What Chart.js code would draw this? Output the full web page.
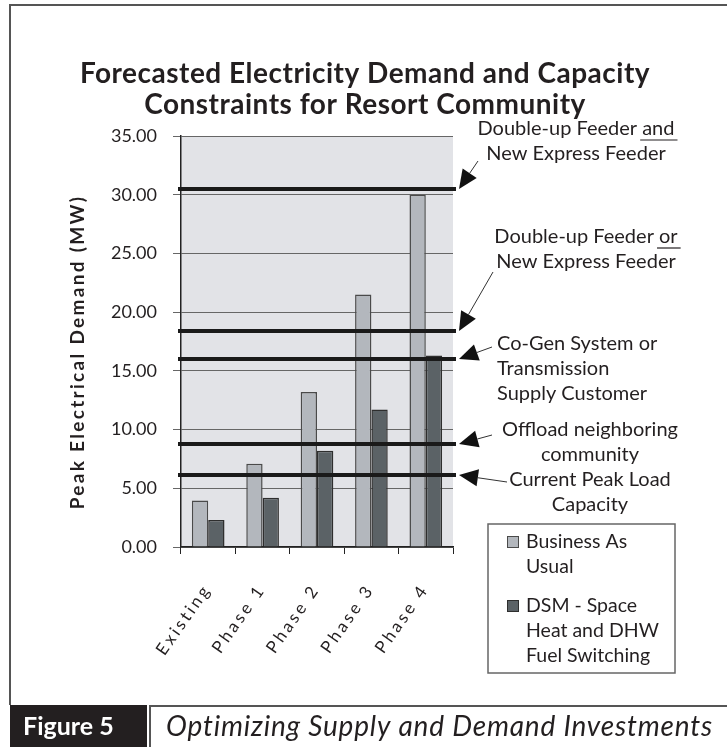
<!DOCTYPE html>
<html>
<head>
<meta charset="utf-8">
<script src="https://cdn.jsdelivr.net/npm/chart.js@4.4.1/dist/chart.umd.min.js"></script>
<style>
  html, body { margin: 0; padding: 0; background: #ffffff; }
  canvas { display: block; }
</style>
</head>
<body>
<canvas id="c" width="727" height="747"></canvas>
<script>
// Forecast categories and demand series (MW)
const categories = ['Existing', 'Phase 1', 'Phase 2', 'Phase 3', 'Phase 4'];
const businessAsUsual = [3.95, 7.1, 13.2, 21.5, 30.0];
const dsmFuelSwitching = [2.3, 4.2, 8.2, 11.7, 16.3];
const seriesNames = [
  ['Business As', 'Usual'],
  ['DSM - Space', 'Heat and DHW', 'Fuel Switching']
];

// Capacity constraint levels (MW) and the measure that unlocks each one
const capacityLevels = [30.5, 18.4, 16.0, 8.8, 6.1];
const capacityNotes = [
  ['Double-up Feeder |and', 'New Express Feeder'],
  ['Double-up Feeder |or', 'New Express Feeder'],
  ['Co-Gen System or', 'Transmission', 'Supply Customer'],
  ['Offload neighboring', 'community'],
  ['Current Peak Load', 'Capacity']
];

const titleLines = ['Forecasted Electricity Demand and Capacity', 'Constraints for Resort Community'];
const yAxisTitle = 'Peak Electrical Demand (MW)';
const figureTag = 'Figure 5';
const figureCaption = 'Optimizing Supply and Demand Investments';

const FONT = 'Lato, "Open Sans", sans-serif';
const INK = '#231f20';

// note layout: text anchor, alignment, arrow tail offset from the arrow tip
const noteLayout = [
  { x: 576, y: 129, align: 'center', tail: [19, -28] },
  { x: 586, y: 237, align: 'center', tail: [34, -59] },
  { x: 497, y: 344, align: 'left',   tail: [33, -12] },
  { x: 590, y: 430, align: 'center', tail: [33, -9] },
  { x: 590, y: 480, align: 'center', tail: [48, 7] }
];

function drawArrow(ctx, tipX, tipY, tailX, tailY) {
  const ang = Math.atan2(tailY - tipY, tailX - tipX);
  const len = 19, half = 8.5;
  const bx = tipX + Math.cos(ang) * len, by = tipY + Math.sin(ang) * len;
  ctx.strokeStyle = '#333';
  ctx.lineWidth = 1;
  ctx.beginPath();
  ctx.moveTo(tailX, tailY);
  ctx.lineTo(bx, by);
  ctx.stroke();
  ctx.fillStyle = '#111';
  ctx.beginPath();
  ctx.moveTo(tipX, tipY);
  ctx.lineTo(bx - Math.sin(ang) * half, by + Math.cos(ang) * half);
  ctx.lineTo(bx + Math.sin(ang) * half, by - Math.cos(ang) * half);
  ctx.closePath();
  ctx.fill();
}

const decorations = {
  id: 'decorations',
  beforeDraw(chart) {
    const { ctx, chartArea: a } = chart;
    ctx.save();
    ctx.fillStyle = '#ffffff';
    ctx.fillRect(0, 0, chart.width, chart.height);
    ctx.fillStyle = '#e2e3e7';
    ctx.fillRect(a.left, a.top, a.right - a.left, a.bottom - a.top);
    ctx.restore();
  },
  afterDatasetsDraw(chart) {
    const { ctx, chartArea: a, scales: { y } } = chart;
    ctx.save();
    ctx.strokeStyle = '#1a1a1a';
    ctx.lineWidth = 4;
    capacityLevels.forEach(v => {
      const py = Math.round(y.getPixelForValue(v));
      ctx.beginPath();
      ctx.moveTo(a.left - 3, py);
      ctx.lineTo(a.right + 3, py);
      ctx.stroke();
    });
    ctx.restore();
  },
  afterDraw(chart) {
    const { ctx, chartArea: a, scales: { x, y } } = chart;
    ctx.save();

    // outer frame
    ctx.strokeStyle = '#555';
    ctx.lineWidth = 2;
    ctx.beginPath();
    ctx.moveTo(10, 705);
    ctx.lineTo(10, 5);
    ctx.lineTo(727, 5);
    ctx.stroke();

    // title
    ctx.fillStyle = INK;
    ctx.font = 'bold 28px ' + FONT;
    ctx.letterSpacing = '0.5px';
    ctx.textAlign = 'center';
    ctx.textBaseline = 'middle';
    titleLines.forEach((t, i) => ctx.fillText(t, 365, 74 + i * 31));
    ctx.letterSpacing = '0px';

    // y axis title
    ctx.save();
    ctx.translate(78, 352);
    ctx.rotate(-Math.PI / 2);
    ctx.font = 'bold 19px ' + FONT;
    ctx.letterSpacing = '2.3px';
    ctx.textAlign = 'center';
    ctx.fillText(yAxisTitle, 0, 0);
    ctx.restore();

    // category labels, rotated and spaced
    ctx.font = '17px ' + FONT;
    categories.forEach((c, i) => {
      const px = x.getPixelForValue(i);
      ctx.save();
      ctx.translate(px - 1, a.bottom + 39);
      ctx.rotate(-55 * Math.PI / 180);
      ctx.letterSpacing = '3px';
      ctx.textAlign = 'right';
      ctx.textBaseline = 'middle';
      ctx.fillText(c, 0, 0);
      ctx.restore();
    });

    // capacity notes with arrows
    capacityLevels.forEach((v, i) => {
      const L = noteLayout[i];
      const tipX = a.right + 6, tipY = Math.round(y.getPixelForValue(v));
      drawArrow(ctx, tipX, tipY, tipX + L.tail[0], tipY + L.tail[1]);
      ctx.fillStyle = INK;
      ctx.font = '20px ' + FONT;
      ctx.textBaseline = 'middle';
      capacityNotes[i].forEach((line, j) => {
        const parts = line.split('|');
        const full = parts.join('');
        const w = ctx.measureText(full).width;
        const left = L.align === 'center' ? L.x - w / 2 : L.x;
        const ly = L.y + j * 25;
        ctx.textAlign = 'left';
        ctx.fillText(full, left, ly);
        if (parts.length > 1) {
          const u0 = left + ctx.measureText(parts[0]).width - 2;
          const u1 = left + w + 3;
          ctx.strokeStyle = INK;
          ctx.lineWidth = 1.2;
          ctx.beginPath();
          ctx.moveTo(u0, ly + 11);
          ctx.lineTo(u1, ly + 11);
          ctx.stroke();
        }
      });
    });

    // legend
    ctx.strokeStyle = '#666';
    ctx.lineWidth = 1.5;
    ctx.strokeRect(488, 524, 187, 149);
    ctx.font = '19.5px ' + FONT;
    ctx.textAlign = 'left';
    ctx.textBaseline = 'middle';
    let ly = 542;
    chart.data.datasets.forEach((ds, i) => {
      ctx.fillStyle = ds.backgroundColor;
      ctx.fillRect(507, ly - 6, 12, 12);
      ctx.strokeStyle = ds.borderColor;
      ctx.lineWidth = 1;
      ctx.strokeRect(507.5, ly - 5.5, 11, 11);
      ctx.fillStyle = INK;
      seriesNames[i].forEach((t, j) => ctx.fillText(t, 526, ly + j * 25));
      ly += seriesNames[i].length * 25 + 14;
    });

    // figure caption band
    ctx.fillStyle = '#231f20';
    ctx.fillRect(10, 705, 137, 42);
    ctx.fillStyle = '#ffffff';
    ctx.font = 'bold 25px ' + FONT;
    ctx.textAlign = 'left';
    ctx.fillText(figureTag, 23, 727);
    ctx.strokeStyle = '#555';
    ctx.lineWidth = 2;
    ctx.beginPath();
    ctx.moveTo(150, 747);
    ctx.lineTo(150, 706);
    ctx.lineTo(727, 706);
    ctx.stroke();
    ctx.fillStyle = INK;
    ctx.font = 'italic 28px ' + FONT;
    ctx.letterSpacing = '0.8px';
    ctx.fillText(figureCaption, 166, 727);
    ctx.letterSpacing = '0px';

    ctx.restore();
  }
};

new Chart(document.getElementById('c'), {
  type: 'bar',
  data: {
    labels: categories,
    datasets: [
      {
        label: seriesNames[0].join(' '),
        data: businessAsUsual,
        backgroundColor: '#b3b7bd',
        borderColor: '#4a4a4a',
        borderWidth: 1.5
      },
      {
        label: seriesNames[1].join(' '),
        data: dsmFuelSwitching,
        backgroundColor: '#5b6266',
        borderColor: '#2e2e2e',
        borderWidth: 1.5
      }
    ]
  },
  options: {
    responsive: false,
    devicePixelRatio: 1,
    animation: false,
    layout: { padding: { left: 101, top: 136, right: 274, bottom: 190 } },
    datasets: { bar: { categoryPercentage: 0.6, barPercentage: 1.0 } },
    plugins: {
      legend: { display: false },
      title: { display: false },
      tooltip: { enabled: false }
    },
    scales: {
      x: {
        grid: { offset: true, drawOnChartArea: false, tickLength: 7, color: '#222', lineWidth: 1 },
        border: { color: '#222', width: 1.5 },
        ticks: { display: false },
        afterFit(s) { s.height = 10; }
      },
      y: {
        min: 0,
        max: 35,
        ticks: {
          stepSize: 5,
          padding: 16,
          color: INK,
          font: { family: FONT, size: 18 },
          callback: v => v.toFixed(2)
        },
        grid: { color: '#666', lineWidth: 1, tickLength: 8 },
        border: { color: '#222', width: 1.5 },
        afterFit(s) { s.width = 80; }
      }
    }
  },
  plugins: [decorations]
});
</script>
</body>
</html>
